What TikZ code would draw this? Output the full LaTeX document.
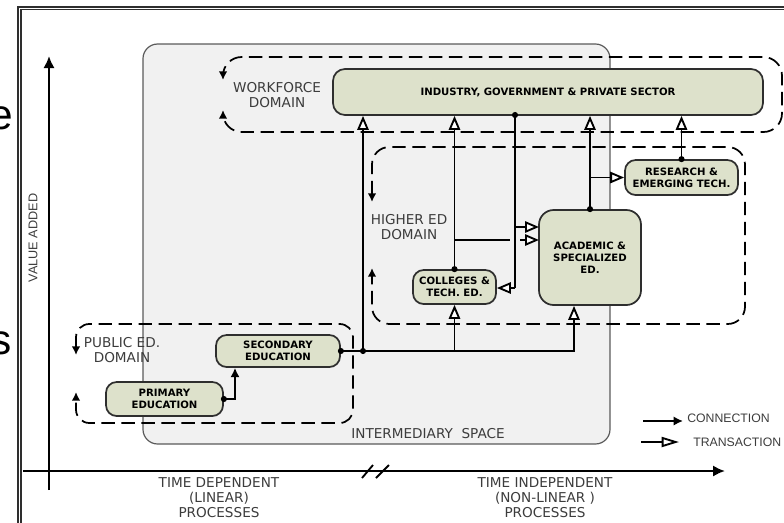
\documentclass[tikz,border=0pt]{standalone}
\usepackage{fontspec}
\setmainfont{DejaVu Sans}
\newfontfamily\arialfont{Liberation Sans}
\usetikzlibrary{arrows.meta}

\definecolor{boxfill}{HTML}{DDE1CB}
\definecolor{boxline}{HTML}{2E2E2E}
\definecolor{interfill}{HTML}{F1F1F1}
\definecolor{interline}{HTML}{5A5A5A}
\definecolor{labelgray}{HTML}{3C3C3C}

\tikzset{
  box/.style={draw=boxline, fill=boxfill, line width=1.3pt, rounded corners=8pt,
    align=center, inner sep=0pt, font=\fontsize{7.6}{9}\selectfont\bfseries},
  domainlabel/.style={align=center, inner sep=0pt, text=labelgray,
    font=\fontsize{10.2}{11.25}\selectfont},
  domainline/.style={line width=1.3pt, dash pattern=on 10pt off 5pt, rounded corners=11pt,
    {Latex[length=6.5pt,width=6.5pt]}-{Latex[length=6.5pt,width=6.5pt]}},
  link/.style={line width=1.4pt},
  conn/.style={link, -{Latex[length=7pt,width=7pt]}},
  trans/.style={link, -{Triangle[open, fill=white, length=10.5pt, width=8.5pt]}},
  axis/.style={line width=1.8pt, -{Latex[length=9pt,width=8.5pt]}},
  legend/.style={inner sep=0pt, text=labelgray, font=\arialfont\fontsize{9.2}{11}\selectfont}
}

\begin{document}
\begin{tikzpicture}[x=0.75pt, y=-0.75pt]
  \useasboundingbox (0,0) rectangle (784,522);
  \clip (0,0) rectangle (784,522);

  % slide frame and cut-off letters
  \draw[line width=0.8pt, boxline] (18,530) -- (18,7) -- (790,7);
  \draw[line width=0.8pt, boxline] (21,530) -- (21,9.5) -- (790,9.5);
  \node[anchor=base east, inner sep=0pt, font=\arialfont\fontsize{31.8}{32}\selectfont] (lete) at (13.5,129.5) {e};
  \node[anchor=base east, inner sep=0pt, font=\arialfont\fontsize{31.8}{32}\selectfont] (lets) at (11.5,354.5) {s};

  % intermediary space
  \draw[fill=interfill, draw=interline, line width=0.9pt, rounded corners=11pt] (143,44) rectangle (610,444);
  \node[domainlabel] (inter) at (428,434) {INTERMEDIARY\ \ SPACE};

  % axes
  \draw[axis] (49,490) -- (49,56);
  \draw[axis] (23,471) -- (725,471);
  \draw[line width=1.4pt] (362,478) -- (373,465);
  \draw[line width=1.4pt] (376,478) -- (389,465);
  \node[rotate=90, inner sep=0pt, text=labelgray, font=\arialfont\fontsize{9.5}{11}\selectfont] (yval) at (33,238) {VALUE ADDED};
  \node[domainlabel] (tdep) at (219,498) {TIME DEPENDENT\\(LINEAR)\\PROCESSES};
  \node[domainlabel] (tind) at (545,498) {TIME INDEPENDENT\\(NON-LINEAR )\\PROCESSES};

  % domains
  \draw[domainline, rounded corners=14pt] (223,80) -- (223,57) -- (782,57) -- (782,132) -- (223,132) -- (223,110);
  \draw[domainline, rounded corners=13pt] (372,202) -- (372,147) -- (745,147) -- (745,324) -- (372,324) -- (372,268);
  \draw[domainline, rounded corners=10pt] (76,355) -- (76,324) -- (353,324) -- (353,423) -- (76,423) -- (76,392);
  \node[domainlabel] (wflab) at (277,95) {WORKFORCE\\DOMAIN};
  \node[domainlabel] (helab) at (409,227) {HIGHER ED\\DOMAIN};
  \node[domainlabel] (pulab) at (122,350) {PUBLIC ED.\\DOMAIN};

  % boxes
  \node[box, rounded corners=9pt, minimum width=322.5pt, minimum height=34.5pt] (ind) at (548,92) {INDUSTRY, GOVERNMENT \& PRIVATE SECTOR};
  \node[box, minimum width=84.75pt, minimum height=26.25pt] (res) at (681.5,177.5) {RESEARCH \&\\EMERGING TECH.};
  \node[box, rounded corners=11pt, minimum width=76.5pt, minimum height=71.25pt] (acad) at (590,257.5) {ACADEMIC \&\\SPECIALIZED\\ED.};
  \node[box, minimum width=62.25pt, minimum height=25.5pt] (coll) at (454.5,287) {COLLEGES \&\\TECH. ED.};
  \node[box, minimum width=93pt, minimum height=24pt] (sec) at (278,351) {SECONDARY\\EDUCATION};
  \node[box, minimum width=87.75pt, minimum height=25.5pt] (prim) at (164.5,399) {PRIMARY\\EDUCATION};

  % junctions
  \coordinate (k1) at (235,399);
  \coordinate (j1) at (363,351);
  \coordinate (j2) at (574,351);
  \coordinate (v1) at (515,115);
  \coordinate (v2) at (515,288);
  \coordinate (h1) at (539,240);
  \coordinate (h2) at (539,227);
  \coordinate (x1) at (515,240);

  % connections
  \draw[conn] (prim.east) -- (k1) -- (k1 |- sec.south);
  \draw[link] (sec.east) -- (j1);
  \draw[trans] (j1) -- (j1 |- ind.south);
  \draw[trans] (j1) -- (j2) -- (j2 |- acad.south);
  \draw[trans] (coll.south |- j1) -- (coll.south);
  \draw[trans] (coll.north) -- (coll.north |- ind.south);
  \draw[link] (coll.north |- h1) -- ([xshift=-4pt]x1);
  \draw[trans] ([xshift=4pt]x1) -- (h1);
  \draw[link] (v1) -- (v2);
  \draw[trans] (v2) -- (v2 -| coll.east);
  \draw[trans] (v1 |- h2) -- (h2);
  \draw[trans] (acad.north) -- (acad.north |- ind.south);
  \draw[trans] (acad.north |- res.west) -- (res.west);
  \draw[trans] (res.north) -- (res.north |- ind.south);
  \foreach \p in {prim.east, sec.east, j1, coll.north, v1, acad.north, res.north}
    \fill (\p) circle (2.3pt);

  % legend
  \node[legend, anchor=west] (lconn) at (687,418) {CONNECTION};
  \node[legend, anchor=west] (ltrans) at (693,442) {TRANSACTION};
  \draw[conn] ([xshift=-33pt]lconn.west |- 0,421) -- ([xshift=-3pt]lconn.west |- 0,421);
  \draw[link, -{Triangle[open, fill=white, length=13pt, width=7.5pt]}] ([xshift=-39pt]ltrans.west) -- ([xshift=-10.5pt]ltrans.west);
\end{tikzpicture}
\end{document}
